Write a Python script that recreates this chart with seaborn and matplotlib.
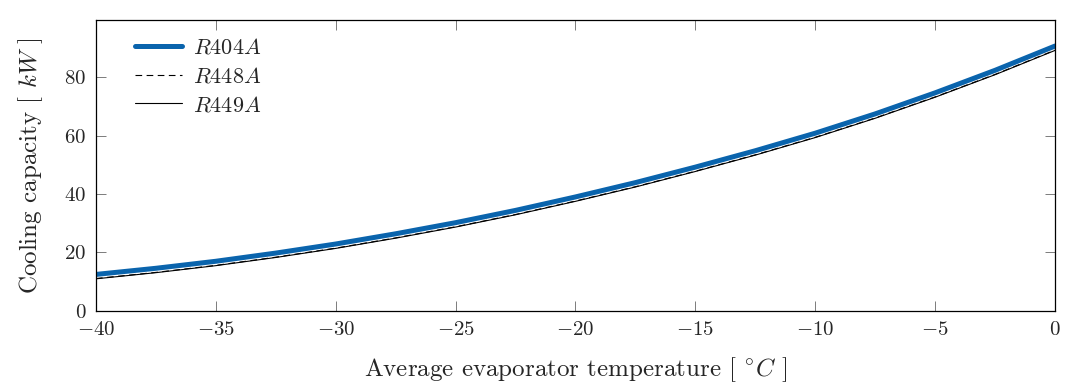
import numpy as np
import pandas as pd
import matplotlib
matplotlib.use("Agg")
import matplotlib.pyplot as plt
import seaborn as sns

temps = [-40, -37.5, -35, -32.5, -30, -27.5, -25, -22.5, -20, -17.5, -15,
         -12.5, -10, -7.5, -5, -2.5, 0]
r404a = [12.5, 14.6, 17.0, 19.8, 22.9, 26.4, 30.2, 34.4, 39.0, 43.9, 49.2,
         54.8, 60.8, 67.4, 74.6, 82.3, 90.6]
r448a = [11.1, 13.2, 15.6, 18.4, 21.5, 25.0, 28.8, 33.0, 37.6, 42.5, 47.8,
         53.4, 59.4, 66.0, 73.2, 80.9, 89.2]
r449a = [11.0, 13.1, 15.5, 18.3, 21.4, 24.9, 28.7, 32.9, 37.5, 42.4, 47.7,
         53.3, 59.3, 65.9, 73.1, 80.8, 89.1]
series_names = ["R404A", "R448A", "R449A"]
xticks = [-40, -35, -30, -25, -20, -15, -10, -5, 0]
yticks = [0, 20, 40, 60, 80]

sns.set_theme(style="ticks")
plt.rcParams["font.family"] = ["cmr10", "DejaVu Serif"]
plt.rcParams["mathtext.fontset"] = "cm"
plt.rcParams["axes.formatter.use_mathtext"] = True
plt.rcParams["axes.unicode_minus"] = True

df = pd.DataFrame({"T": temps, "R404A": r404a, "R448A": r448a, "R449A": r449a})

fig = plt.figure(figsize=(10.88, 3.90), dpi=100)
ax = fig.add_axes([0.0882, 0.2026, 0.9697 - 0.0882, 0.9487 - 0.2026])

styles = {
    "R404A": dict(color="#0a64ad", lw=3.6, ls="-"),
    "R448A": dict(color="black", lw=0.8, ls=(0, (6, 4))),
    "R449A": dict(color="black", lw=0.8, ls="-"),
}
for name in series_names:
    st = styles[name]
    sns.lineplot(data=df, x="T", y=name, ax=ax, color=st["color"],
                 linewidth=st["lw"], linestyle=st["ls"],
                 label=r"$%s$" % name)

ax.set_xlim(-40, 0)
ax.set_ylim(0, 99.5)
ax.set_xticks(xticks)
ax.set_yticks(yticks)
ax.tick_params(direction="in", length=7, width=0.6, color="#666666",
               top=True, right=True, labelsize=15, pad=7)
for sp in ax.spines.values():
    sp.set_linewidth(0.9)
    sp.set_color("black")

ax.set_xlabel(r"Average evaporator temperature [ $^{\circ}C$ ]", fontsize=18, labelpad=12)
ax.set_ylabel(r"Cooling capacity [ $kW$ ]", fontsize=18, labelpad=14)

leg = ax.legend(loc="upper left", frameon=False, fontsize=16, handlelength=2.1,
                handletextpad=0.5, labelspacing=0.4, borderpad=0,
                borderaxespad=0, bbox_to_anchor=(0.041, 0.94))

fig.savefig("out.png", dpi=100)
